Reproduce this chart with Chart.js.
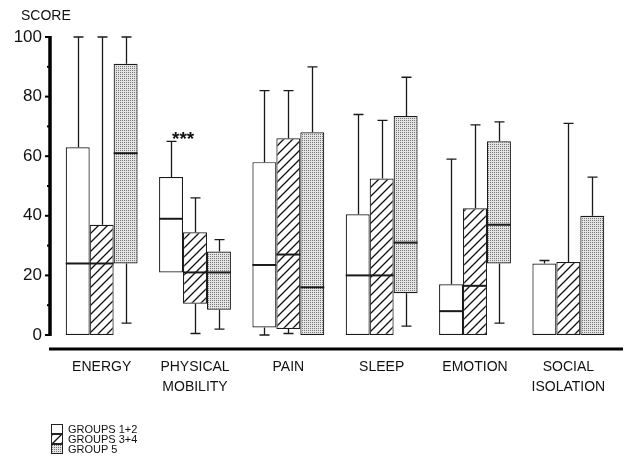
<!DOCTYPE html>
<html>
<head>
<meta charset="utf-8">
<script src="https://cdn.jsdelivr.net/npm/chart.js@4.4.1/dist/chart.umd.min.js"></script>
<style>
  html, body { margin: 0; padding: 0; background: #fff; }
  #wrap { position: relative; width: 632px; height: 462px; }
  #legend { position: absolute; left: 51px; top: 424px; font: 11px 'Liberation Sans', Arial, sans-serif; color: #111; }
  #legend div { height: 10px; line-height: 10px; display: flex; align-items: center; }
  #legend span.sw { display: inline-block; width: 10px; height: 8px; border: 1px solid #222; margin-right: 5px; }
</style>
</head>
<body>
<div id="wrap">
  <canvas id="boxChart" width="632" height="462"></canvas>
  <div id="legend"></div>
</div>
<script>
// --- data ---
const categories = [['ENERGY'], ['PHYSICAL', 'MOBILITY'], ['PAIN'], ['SLEEP'], ['EMOTION'], ['SOCIAL', 'ISOLATION']];
const groupNames = ['GROUPS 1+2', 'GROUPS 3+4', 'GROUP 5'];
const yTicks = [0, 20, 40, 60, 80, 100];

// groups 1+2
const g1Q1  = [0, 21, 2.5, 0, 0, 0];
const g1Q3  = [63, 53, 58, 40.5, 17, 24];
const g1Med = [24, 39, 23.5, 20, 8, null];
const g1Min = [0, 21, 0, 0, 0, 0];
const g1Max = [100, 65, 82, 74, 59, 25];

// groups 3+4
const g2Q1  = [0, 10.5, 2, 0, 0, 0];
const g2Q3  = [37, 34.5, 66, 52.5, 42.5, 24.5];
const g2Med = [24, 21, 27, 20, 16.5, null];
const g2Min = [0, 0.5, 0.5, 0, 0, 0];
const g2Max = [100, 46, 82, 72, 70.5, 71];

// group 5
const g3Q1  = [24, 8.5, 0, 14, 24, 0];
const g3Q3  = [91, 28, 68, 73.5, 65, 40];
const g3Med = [61, 21, 16, 31, 37, null];
const g3Min = [4, 2, 0, 3, 4, 0];
const g3Max = [100, 32, 90, 86.5, 71.5, 53];

const FONT = "'Liberation Sans', Arial, sans-serif";

// --- fill patterns ---
function makeHatch() {
    const c = document.createElement('canvas');
    c.width = 9; c.height = 9;
    const x = c.getContext('2d');
    x.fillStyle = '#fff';
    x.fillRect(0, 0, 9, 9);
    x.strokeStyle = '#111';
    x.lineWidth = 1.3;
    x.beginPath();
    x.moveTo(-1, 10); x.lineTo(10, -1);
    x.moveTo(-1, 1); x.lineTo(1, -1);
    x.moveTo(8, 10); x.lineTo(10, 8);
    x.stroke();
    return c;
}
function makeStipple() {
    const c = document.createElement('canvas');
    c.width = 2; c.height = 2;
    const x = c.getContext('2d');
    x.fillStyle = '#e4e4e4';
    x.fillRect(0, 0, 2, 2);
    x.fillStyle = '#777';
    x.fillRect(0, 0, 1, 1);
    return c;
}
const hatchTile = makeHatch();
const stippleTile = makeStipple();
const ctx = document.getElementById('boxChart').getContext('2d');
const fills = ['#ffffff', ctx.createPattern(hatchTile, 'repeat'), ctx.createPattern(stippleTile, 'repeat')];

const stats = [
    { q1: g1Q1, q3: g1Q3, med: g1Med, min: g1Min, max: g1Max },
    { q1: g2Q1, q3: g2Q3, med: g2Med, min: g2Min, max: g2Max },
    { q1: g3Q1, q3: g3Q3, med: g3Med, min: g3Min, max: g3Max }
];

const datasets = stats.map((s, i) => ({
    label: groupNames[i],
    data: s.q1.map((v, j) => [v, s.q3[j]]),
    backgroundColor: fills[i],
    borderColor: '#1a1a1a',
    borderWidth: 1.2,
    borderSkipped: false,
    categoryPercentage: 0.77,
    barPercentage: 1.0
}));

// whiskers, medians, axis lines and annotations
const boxExtras = {
    id: 'boxExtras',
    afterDatasetsDraw(chart) {
        const c = chart.ctx;
        const y = chart.scales.y;
        const area = chart.chartArea;
        c.save();
        c.strokeStyle = '#1a1a1a';
        stats.forEach((s, i) => {
            const meta = chart.getDatasetMeta(i);
            meta.data.forEach((bar, j) => {
                const cx = Math.round(bar.x) + 0.5;
                c.lineWidth = 1.3;
                // upper whisker
                if (s.max[j] > s.q3[j]) {
                    const top = y.getPixelForValue(s.max[j]);
                    c.beginPath();
                    c.moveTo(cx, y.getPixelForValue(s.q3[j]));
                    c.lineTo(cx, top);
                    c.moveTo(cx - 5, top);
                    c.lineTo(cx + 5, top);
                    c.stroke();
                }
                // lower whisker
                if (s.min[j] < s.q1[j]) {
                    const bot = y.getPixelForValue(s.min[j]);
                    c.beginPath();
                    c.moveTo(cx, y.getPixelForValue(s.q1[j]));
                    c.lineTo(cx, bot);
                    c.moveTo(cx - 5, bot);
                    c.lineTo(cx + 5, bot);
                    c.stroke();
                }
                // median
                if (s.med[j] !== null) {
                    const my = y.getPixelForValue(s.med[j]);
                    c.lineWidth = 2;
                    c.beginPath();
                    c.moveTo(bar.x - bar.width / 2, my);
                    c.lineTo(bar.x + bar.width / 2, my);
                    c.stroke();
                }
            });
        });

        // y axis line with ticks
        const ax = area.left - 5;
        c.strokeStyle = '#000';
        c.lineWidth = 3.5;
        c.beginPath();
        c.moveTo(ax, y.getPixelForValue(100) - 1);
        c.lineTo(ax, y.getPixelForValue(0) + 1);
        c.stroke();
        c.lineWidth = 2;
        for (let v = 0; v <= 100; v += 10) {
            const py = y.getPixelForValue(v);
            c.beginPath();
            c.moveTo(ax - (v % 20 === 0 ? 5 : 3), py);
            c.lineTo(ax, py);
            c.stroke();
        }
        // x axis line
        c.lineWidth = 3;
        c.beginPath();
        c.moveTo(ax - 1, area.bottom + 14);
        c.lineTo(chart.width - 9, area.bottom + 14);
        c.stroke();

        // labels
        c.fillStyle = '#111';
        c.font = '14px ' + FONT;
        c.textBaseline = 'middle';
        c.textAlign = 'left';
        c.fillText('SCORE', 21, 16);

        const pm = chart.getDatasetMeta(0).data[1];
        c.font = 'bold 19px ' + FONT;
        c.textBaseline = 'alphabetic';
        c.fillText('***', pm.x + 1, y.getPixelForValue(g1Max[1]) + 4);
        c.restore();
    }
};

new Chart(ctx, {
    type: 'bar',
    data: { labels: categories, datasets: datasets },
    options: {
        responsive: false,
        animation: false,
        layout: { padding: { top: 37, right: 17, left: 0, bottom: 0 } },
        plugins: { legend: { display: false }, tooltip: { enabled: false } },
        scales: {
            x: {
                grid: { display: false, drawTicks: false },
                border: { display: false },
                ticks: { color: '#111', font: { family: FONT, size: 14, lineHeight: 1.43 }, padding: 22, maxRotation: 0, autoSkip: false },
                afterFit: s => { s.height = 127; }
            },
            y: {
                min: 0, max: 100,
                grid: { display: false, drawTicks: false },
                border: { display: false },
                afterBuildTicks: s => { s.ticks = yTicks.map(v => ({ value: v })); },
                ticks: { color: '#111', font: { family: FONT, size: 17 }, padding: 13 },
                afterFit: s => { s.width = 55; }
            }
        }
    },
    plugins: [boxExtras]
});

// legend
const legend = document.getElementById('legend');
const swatchBg = ['#fff', 'url(' + hatchTile.toDataURL() + ')', 'url(' + stippleTile.toDataURL() + ')'];
groupNames.forEach((name, i) => {
    const row = document.createElement('div');
    row.innerHTML = `<span class="sw" style="background:${swatchBg[i]}"></span>${name}`;
    legend.appendChild(row);
});
</script>
</body>
</html>
